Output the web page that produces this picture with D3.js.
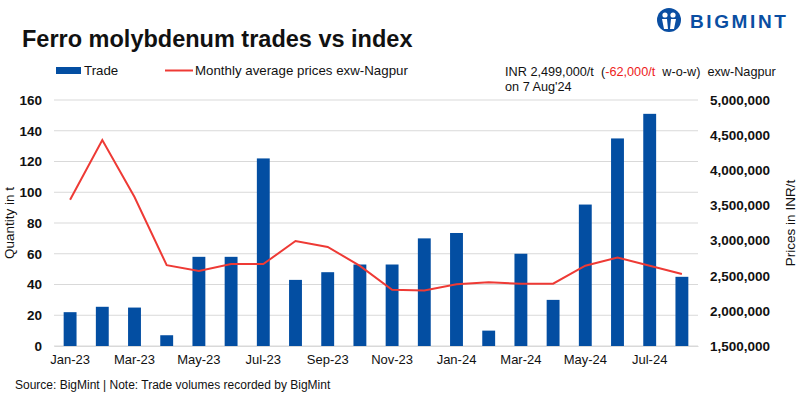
<!DOCTYPE html>
<html>
<head>
<meta charset="utf-8">
<script src="https://cdn.jsdelivr.net/npm/d3@7"></script>
<style>
  body { margin: 0; background: #fff; }
  svg { font-family: "Liberation Sans", Arial, sans-serif; }
</style>
</head>
<body>
<div id="chart"></div>
<script>
const months = ["Jan-23","Feb-23","Mar-23","Apr-23","May-23","Jun-23","Jul-23","Aug-23","Sep-23","Oct-23","Nov-23","Dec-23",
                "Jan-24","Feb-24","Mar-24","Apr-24","May-24","Jun-24","Jul-24","Aug-24"];
const trade = [22, 25.5, 25, 7, 58, 58, 122, 43, 48, 53, 53, 70, 73.5, 10, 60, 30, 92, 135, 151, 45];
const prices = [3580000, 4430000, 3620000, 2650000, 2567000, 2667000, 2665000, 2994000, 2910000, 2640000, 2300000, 2290000,
                2378000, 2406000, 2386000, 2386000, 2643000, 2757000, 2643000, 2524000];
const leftTicks = [0, 20, 40, 60, 80, 100, 120, 140, 160];
const rightTicks = [1500000, 2000000, 2500000, 3000000, 3500000, 4000000, 4500000, 5000000];

let margin = {top: 100, right: 102, bottom: 53, left: 54},
    width = 800 - margin.left - margin.right,
    height = 399 - margin.top - margin.bottom;

let svg = d3.select("#chart")
    .append("svg")
        .attr("width", 800)
        .attr("height", 399);

let g = svg.append("g")
    .attr("transform", `translate(${margin.left},${margin.top})`);

let x = d3.scaleBand()
    .domain(months)
    .range([0, width])
    .paddingInner(0.6)
    .paddingOuter(0.3);

let y = d3.scaleLinear()
    .domain([0, 160])
    .range([height, 0]);

let y2 = d3.scaleLinear()
    .domain([1500000, 5000000])
    .range([height, 0]);

// gridlines
g.append("g")
    .selectAll("line")
    .data(leftTicks)
    .enter()
    .append("line")
        .attr("x1", 0)
        .attr("x2", width)
        .attr("y1", d => y(d))
        .attr("y2", d => y(d))
        .attr("stroke", "#d9d9d9")
        .attr("stroke-width", 1);

// bars
g.append("g")
    .selectAll("rect")
    .data(trade)
    .enter()
    .append("rect")
        .attr("x", (d, i) => x(months[i]))
        .attr("y", d => y(d))
        .attr("width", x.bandwidth())
        .attr("height", d => height - y(d))
        .attr("fill", "#034ea2");

// price line
let line = d3.line()
    .x((d, i) => x(months[i]) + x.bandwidth() / 2)
    .y(d => y2(d));

g.append("path")
    .datum(prices)
    .attr("fill", "none")
    .attr("stroke", "#ee3a35")
    .attr("stroke-width", 2)
    .attr("d", line);

// left axis
let yAxis = g.append("g")
    .call(d3.axisLeft(y).tickValues(leftTicks).tickSize(0).tickPadding(12));
yAxis.select(".domain").remove();
yAxis.selectAll("text")
    .attr("font-size", 13.5)
    .attr("font-weight", "bold")
    .attr("fill", "#111")
    .attr("font-family", "Liberation Sans, Arial, sans-serif");

// right axis
let y2Axis = g.append("g")
    .attr("transform", `translate(${width},0)`)
    .call(d3.axisRight(y2).tickValues(rightTicks).tickSize(0).tickPadding(12).tickFormat(d3.format(",")));
y2Axis.select(".domain").remove();
y2Axis.selectAll("text")
    .attr("font-size", 13.5)
    .attr("font-weight", "bold")
    .attr("fill", "#111")
    .attr("font-family", "Liberation Sans, Arial, sans-serif");

// bottom axis
let xAxis = g.append("g")
    .attr("transform", `translate(0,${height})`)
    .call(d3.axisBottom(x).tickValues(months.filter((m, i) => i % 2 == 0)).tickSize(0).tickPadding(9));
xAxis.select(".domain")
    .attr("stroke", "#d9d9d9");
xAxis.selectAll("text")
    .attr("font-size", 13)
    .attr("fill", "#111")
    .attr("font-family", "Liberation Sans, Arial, sans-serif");

// axis titles
svg.append("text")
    .attr("transform", `translate(14,${margin.top + height / 2}) rotate(-90)`)
    .attr("text-anchor", "middle")
    .attr("font-size", 13.5)
    .attr("fill", "#111")
    .text("Quantity in t");

svg.append("text")
    .attr("transform", `translate(795,${margin.top + height / 2}) rotate(-90)`)
    .attr("text-anchor", "middle")
    .attr("font-size", 13.5)
    .attr("fill", "#111")
    .text("Prices in INR/t");

// title
svg.append("text")
    .attr("x", 22)
    .attr("y", 47)
    .attr("font-size", 23.5)
    .attr("font-weight", "bold")
    .attr("fill", "#111")
    .text("Ferro molybdenum trades vs index");

// legend
svg.append("rect")
    .attr("x", 56).attr("y", 67)
    .attr("width", 25).attr("height", 7)
    .attr("fill", "#034ea2");
svg.append("text")
    .attr("x", 84).attr("y", 75)
    .attr("font-size", 13.3)
    .attr("fill", "#111")
    .text("Trade");
svg.append("line")
    .attr("x1", 165).attr("x2", 193)
    .attr("y1", 70.5).attr("y2", 70.5)
    .attr("stroke", "#ee3a35")
    .attr("stroke-width", 2);
svg.append("text")
    .attr("x", 195).attr("y", 75)
    .attr("font-size", 13.3)
    .attr("fill", "#111")
    .text("Monthly average prices exw-Nagpur");

// annotation
let note = svg.append("text")
    .attr("x", 505).attr("y", 76)
    .attr("font-size", 12.7)
    .attr("fill", "#111")
    .attr("xml:space", "preserve");
note.append("tspan").text("INR 2,499,000/t  (");
note.append("tspan").attr("fill", "#ee1c1c").text("-62,000/t");
note.append("tspan").text("  w-o-w)  exw-Nagpur");
svg.append("text")
    .attr("x", 505).attr("y", 91)
    .attr("font-size", 12.7)
    .attr("fill", "#111")
    .text("on 7 Aug'24");

// source
svg.append("text")
    .attr("x", 15).attr("y", 389)
    .attr("font-size", 12)
    .attr("fill", "#111")
    .text("Source: BigMint | Note: Trade volumes recorded by BigMint");

// logo
let logo = svg.append("g").attr("transform", "translate(669,20)");
logo.append("circle").attr("r", 12).attr("fill", "#0a4ea2");
logo.append("circle").attr("cx", -4).attr("cy", -5).attr("r", 2.6).attr("fill", "#fff");
logo.append("circle").attr("cx", 4).attr("cy", -5).attr("r", 2.6).attr("fill", "#fff");
logo.append("path").attr("d", "M-7,-1 L-2,-1 L-1,9 L-5,9 Z M7,-1 L2,-1 L1,9 L5,9 Z").attr("fill", "#fff");
svg.append("text")
    .attr("x", 690).attr("y", 28)
    .attr("font-size", 19)
    .attr("font-weight", "bold")
    .attr("letter-spacing", 2.6)
    .attr("fill", "#0a4ea2")
    .text("BIGMINT");
</script>
</body>
</html>
